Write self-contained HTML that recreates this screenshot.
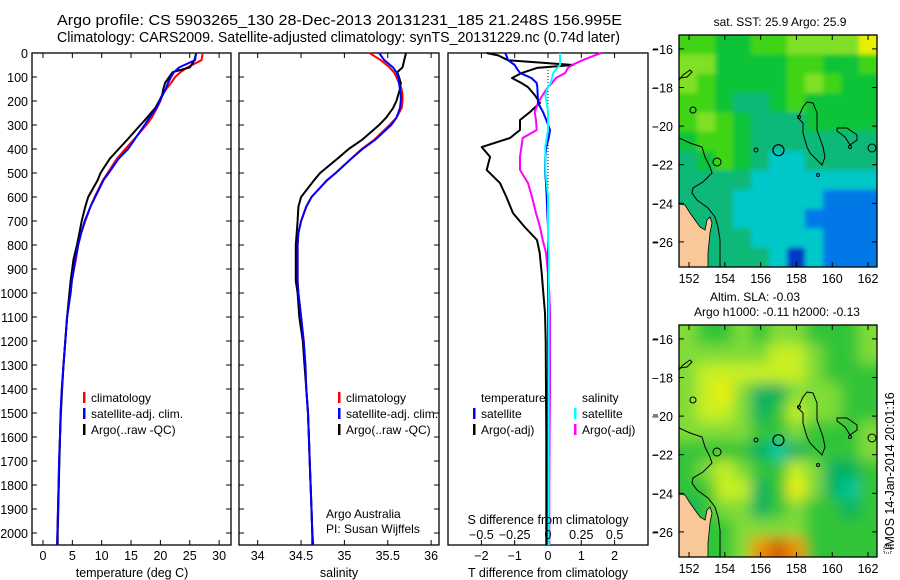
<!DOCTYPE html>
<html><head><meta charset="utf-8">
<style>
body{margin:0;background:#fff;}
svg{display:block;font-family:"Liberation Sans",sans-serif;}
</style></head>
<body>
<svg id="chart" width="900" height="580" viewBox="0 0 900 580" xmlns="http://www.w3.org/2000/svg">
<defs>
<clipPath id="clipM1"><rect x="679" y="35" width="198" height="232"/></clipPath>
<clipPath id="clipM2"><rect x="679" y="325" width="198" height="232"/></clipPath>
<filter id="blur" x="-10%" y="-10%" width="120%" height="120%"><feGaussianBlur stdDeviation="7"/></filter>
<filter id="blurS" x="-10%" y="-10%" width="120%" height="120%"><feGaussianBlur stdDeviation="2.5"/></filter>
</defs>
<text x="57" y="25" font-size="14.5" textLength="565" lengthAdjust="spacingAndGlyphs">Argo profile: CS 5903265_130 28-Dec-2013 20131231_185 21.248S 156.995E</text>
<text x="57" y="42" font-size="14.5" textLength="563" lengthAdjust="spacingAndGlyphs">Climatology: CARS2009. Satellite-adjusted climatology: synTS_20131229.nc (0.74d later)</text>
<g id="g"></g>
</svg>
<script>
// ---------- data ----------
const depths = [0,30,60,80,100,125,150,175,200,230,270,300,360,400,440,500,530,600,640,700,750,800,860,950,1000,1100,1200,1300,1400,1500,1600,1700,1800,1900,2000,2050];
const tempClim = [27.2,27.0,24.6,23.4,22.5,21.8,21.0,20.3,20.0,19.4,18.5,17.6,15.5,14.0,12.6,11.0,10.2,8.8,8.1,7.2,6.5,6.0,5.6,4.9,4.7,4.1,3.8,3.5,3.2,3.0,2.9,2.75,2.65,2.55,2.45,2.4];
const tempSat  = [26.1,25.9,23.2,22.3,21.8,21.3,20.9,20.4,19.9,19.3,18.1,17.3,15.6,14.5,12.9,11.2,10.3,8.9,8.1,7.1,6.5,6.0,5.5,4.9,4.7,4.1,3.8,3.5,3.2,3.0,2.9,2.75,2.65,2.55,2.45,2.4];
const tempArgo = [26.1,25.8,25.0,22.1,21.5,20.8,20.5,20.3,19.8,19.1,17.7,16.6,14.4,12.9,11.4,9.8,9.3,7.7,7.2,6.6,6.2,5.8,5.2,4.7,4.5,4.1,3.8,3.5,3.25,3.05,2.9,2.8,2.7,2.6,2.5,2.5];
const salClim = [35.29,35.42,35.52,35.57,35.60,35.63,35.66,35.67,35.67,35.66,35.60,35.52,35.35,35.20,35.08,34.90,34.80,34.62,34.56,34.50,34.47,34.46,34.46,34.46,34.47,34.50,34.53,34.55,34.56,34.58,34.59,34.60,34.61,34.62,34.63,34.64];
const salSat  = [35.40,35.46,35.56,35.60,35.62,35.63,35.64,35.65,35.65,35.64,35.60,35.54,35.36,35.21,35.08,34.90,34.80,34.62,34.56,34.50,34.47,34.46,34.46,34.46,34.47,34.50,34.53,34.55,34.56,34.58,34.59,34.60,34.61,34.62,34.63,34.64];
const salArgo = [35.71,35.69,35.67,35.61,35.63,35.65,35.64,35.62,35.60,35.56,35.48,35.40,35.21,35.05,34.92,34.72,34.65,34.50,34.47,34.46,34.45,34.44,34.44,34.44,34.46,34.48,34.52,34.54,34.56,34.58,34.59,34.60,34.61,34.62,34.63,34.63];
const diffDepths = [0,10,30,50,62,83,104,125,142,175,208,246,279,321,354,392,433,487,542,600,667,725,779,833,917,1000,1083,1200,1400,1600,1800,2000,2050];
const dTempArgo = [-1.84,-1.5,-1.2,0.75,-0.33,-0.78,-1.08,-0.8,-0.6,-0.4,-0.24,-0.54,-0.84,-0.84,-1.14,-1.99,-1.74,-1.84,-1.44,-1.25,-1.05,-0.7,-0.33,-0.25,-0.19,-0.14,-0.09,-0.07,-0.06,-0.05,-0.05,-0.05,-0.05];
const dTempSat = [-1.29,-1.25,-1.2,-1.0,-0.95,-0.84,-0.5,-0.34,-0.32,-0.31,-0.3,-0.15,-0.05,0.06,0.02,-0.05,-0.08,-0.09,-0.06,-0.04,-0.02,0.0,0.0,0.0,0.0,0.0,0.0,0.0,0.0,0.0,0.0,0.0,0.0];
const dSalArgo = [0.40,0.35,0.26,0.18,0.15,0.13,0.06,0.03,0.0,-0.04,-0.075,-0.1,-0.09,-0.085,-0.19,-0.2,-0.21,-0.21,-0.15,-0.12,-0.09,-0.06,-0.04,-0.015,0.0,0.01,0.015,0.015,0.015,0.012,0.01,0.01,0.01];
const dSalSat = [0.09,0.09,0.09,0.09,0.07,0.04,0.03,0.02,0.0,-0.02,-0.01,0.0,0.0,0.0,-0.01,-0.02,-0.02,-0.02,-0.01,0.0,0.0,0.0,0.0,0.005,0.005,0.005,0.005,0.005,0.005,0.005,0.005,0.005,0.005];
const depthTicks = [0,100,200,300,400,500,600,700,800,900,1000,1100,1200,1300,1400,1500,1600,1700,1800,1900,2000];
const tempTicks = [0,5,10,15,20,25,30];
const salTicks = [34,34.5,35,35.5,36];
const salTickLabels = ["34","34.5","35","35.5","36"];
const dTTicks = [-2,-1,0,1,2];
const dSTicks = [-0.5,-0.25,0,0.25,0.5];
const dSTickLabels = ["\u22120.5","\u22120.25","0","0.25","0.5"];
const lonTicks = [152,154,156,158,160,162];
const latTicks = [-16,-18,-20,-22,-24,-26];
const sstGrid = [
[5,5,4,4,5,5,6,6,6,6,7],[6,6,4,4,4,4,5,5,4,4,5],[6,5,4,4,4,4,5,6,5,4,4],[5,5,4,3,3,4,5,4,4,4,4],
[5,6,5,4,3,3,3,4,4,4,4],[4,5,5,4,3,3,3,3,3,3,3],[3,4,5,4,3,2,2,3,3,3,3],[3,3,3,3,2,2,2,2,2,2,2],
[3,3,3,2,2,2,2,2,1,1,1],[3,3,3,2,2,2,2,1,1,1,1],[3,3,3,3,2,2,2,2,1,1,1],[3,3,3,3,3,2,0,2,1,1,1]];
const slaGrid = [
[3,2,2,3,2,3,3,2,2,2,3],[3,3,3,3,3,4,4,3,2,2,3],[3,4,4,4,4,4,4,3,2,2,2],[3,4,5,3,1,1,3,3,3,2,2],
[3,4,4,3,1,2,4,3,3,2,2],[3,3,3,3,2,2,3,2,2,2,3],[2,2,2,2,1,0,1,2,2,2,3],[2,3,4,3,2,2,4,3,1,1,2],
[2,2,4,4,1,2,5,3,1,0,2],[1,2,3,3,1,2,3,2,2,1,2],[1,2,2,3,3,3,3,2,2,2,2],[1,2,2,3,6,7,6,2,2,2,2]];
const sstColors = ["#0038c8","#0078e8","#00c8c8","#10b878","#10c438","#40d418","#80e028","#e8f000"];
const slaColors = ["#00c8a0","#00b060","#30c438","#80dc38","#c8f020","#f0f000","#f09000","#d06000"];

// ---------- helpers ----------
const NS="http://www.w3.org/2000/svg";
const root=document.getElementById('g');
function mk(tag,attrs,parent){const e=document.createElementNS(NS,tag);for(const k in attrs)e.setAttribute(k,attrs[k]);(parent||root).appendChild(e);return e;}
const yD = d => 53 + 0.24*d;
const xT = t => 43 + 5.87*t;
const xS = s => 257.7 + 86.7*(s-34);
const xdT = t => 548 + 33.3*t;
const xdS = s => 548 + 133.2*s;
const pTop=53,pBot=545;
function frame(x0,x1,name){
  const r=mk('rect',{x:x0,y:pTop,width:x1-x0,height:pBot-pTop,fill:'none',stroke:'#000','stroke-width':1.3});
  
  
}
function txt(x,y,s,size,anchor,name){
  const t=mk('text',{x:x,y:y,'font-size':size,'text-anchor':anchor||'start'});
  t.textContent=s;
  
  
  return t;
}
function line(xs,ys,color,name,w){
  let p=xs.map((x,i)=>x.toFixed(1)+','+ys[i].toFixed(1)).join(' ');
  const l=mk('polyline',{points:p,fill:'none',stroke:color,'stroke-width':w||2,'stroke-linejoin':'round'});
  
  
}
function xTicks(vals,fx){
  vals.forEach(v=>{const x=fx(v);mk('line',{x1:x,x2:x,y1:pTop,y2:pTop+5,stroke:'#000'});mk('line',{x1:x,x2:x,y1:pBot,y2:pBot-5,stroke:'#000'});});
}
function yTicks(x0,x1){
  depthTicks.forEach(d=>{const y=yD(d);mk('line',{x1:x0,x2:x0+5,y1:y,y2:y,stroke:'#000'});mk('line',{x1:x1,x2:x1-5,y1:y,y2:y,stroke:'#000'});});
}
function legendEntry(x,y,color,label,name){
  const r=mk('rect',{x:x,y:y-10,width:2.5,height:11,fill:color});
  
  
  txt(x+8,y,label,12,'start',name);
}

// ---------- panel 1 ----------
frame(32,231,'temperature-panel');
yTicks(32,231); xTicks(tempTicks,xT);
depthTicks.forEach(d=>txt(28,yD(d)+5,String(d),12.5,'end','depth-tick-label'));
tempTicks.forEach(t=>txt(xT(t),560,String(t),12.5,'middle','temperature-tick-label'));
txt(132,577,'temperature (deg C)',12.5,'middle','temperature-axis-title');
line(tempClim.map(xT),depths.map(yD),'#ff0000','temp-climatology-line');
line(tempArgo.map(xT),depths.map(yD),'#000','temp-argo-line');
line(tempSat.map(xT),depths.map(yD),'#0000ff','temp-satellite-line');
legendEntry(83,402,'#f00','climatology','legend-climatology');
legendEntry(83,418,'#00f','satellite-adj. clim.','legend-satellite');
legendEntry(83,434,'#000','Argo(..raw -QC)','legend-argo');

// ---------- panel 2 ----------
frame(239,439,'salinity-panel');
yTicks(239,439); xTicks(salTicks,xS);
salTicks.forEach((s,i)=>txt(xS(s),560,salTickLabels[i],12.5,'middle','salinity-tick-label'));
txt(339,577,'salinity',12.5,'middle','salinity-axis-title');
line(salClim.map(xS),depths.map(yD),'#ff0000','sal-climatology-line');
line(salArgo.map(xS),depths.map(yD),'#000','sal-argo-line');
line(salSat.map(xS),depths.map(yD),'#0000ff','sal-satellite-line');
legendEntry(338,402,'#f00','climatology','legend2-climatology');
legendEntry(338,418,'#00f','satellite-adj. clim.','legend2-satellite');
legendEntry(338,434,'#000','Argo(..raw -QC)','legend2-argo');
txt(326,518,'Argo Australia',12,'start','credit-line-1');
txt(326,533,'PI: Susan Wijffels',12,'start','credit-line-2');

// ---------- panel 3 ----------
frame(448,648,'difference-panel');
xTicks(dTTicks,xdT);
[49,88,127,165,204,242,339,415,455,494,532].forEach(y=>mk('line',{x1:653,x2:658,y1:y,y2:y,stroke:'#000'}));
mk('line',{x1:548,x2:548,y1:70,y2:190,stroke:'#000','stroke-dasharray':'1,2'});
line(dTempArgo.map(xdT),diffDepths.map(yD),'#000','tdiff-argo-line');
line(dSalArgo.map(xdS),diffDepths.map(yD),'#ff00ff','sdiff-argo-line');
line(dTempSat.map(xdT),diffDepths.map(yD),'#0000ff','tdiff-satellite-line');
line(dSalSat.map(xdS),diffDepths.map(yD),'#00ffff','sdiff-satellite-line');
txt(481,402,'temperature',12,'start','legend3-temperature-header');
txt(582,402,'salinity',12,'start','legend3-salinity-header');
legendEntry(473,418,'#00f','satellite','legend3-t-satellite');
legendEntry(473,434,'#000','Argo(-adj)','legend3-t-argo');
legendEntry(574,418,'#0ff','satellite','legend3-s-satellite');
legendEntry(574,434,'#f0f','Argo(-adj)','legend3-s-argo');
txt(548,524,'S difference from climatology',12.5,'middle','s-diff-axis-title');
dSTicks.forEach((s,i)=>txt(xdS(s),539,dSTickLabels[i],12.5,'middle','s-diff-tick-label'));
dTTicks.forEach(t=>txt(xdT(t),560,t<0?'\u2212'+(-t):String(t),12.5,'middle','t-diff-tick-label'));
txt(548,577,'T difference from climatology',12.5,'middle','t-diff-axis-title');

// ---------- maps ----------
const mx0=679,mW=198,mH=232,lonL=151.44,lonR=162.5,latT=-15.28,latB=-27.3;
const xLon = lon => mx0 + (lon-lonL)/(lonR-lonL)*mW;
function drawMap(oy,grid,colors,name,blurId){
  const g=mk('g',{'clip-path':'url(#clipM'+(oy?2:1)+')'});
  
  
  const yLat = lat => oy+35 + (latT-lat)/(latT-latB)*mH;
  const cells=mk('g',{filter:'url(#'+blurId+')'},g);
  const cw=mW/grid[0].length, ch=mH/grid.length;
  mk('rect',{x:mx0-20,y:oy+15,width:mW+40,height:mH+40,fill:colors[2]},cells);
  grid.forEach((row,r)=>row.forEach((v,c)=>{
    const cx = (c===0?-15:c===row.length-1?15:0), cy = (r===0?-15:r===grid.length-1?15:0);
    const rc=mk('rect',{x:mx0+c*cw+Math.min(cx,0),y:oy+35+r*ch+Math.min(cy,0),width:cw+Math.abs(cx)+0.5,height:ch+Math.abs(cy)+0.5,fill:colors[v]},cells);
    
    
  }));
  const ov=mk('g',{transform:'translate(679,'+(oy+35)+')'},g);
  mk('path',{d:'M0,169 L6,170 L11,178 L16,185 L21,192 L26,195 L28,185 L31,182 L33,188 L31,198 L29,218 L29,232 L0,232Z',fill:'#f8c898',stroke:'#000','stroke-width':0.8},ov);
  const st={fill:'none',stroke:'#000','stroke-width':1};
  mk('path',Object.assign({d:'M0,103 L11,108 L23,112 L26,122 L31,132 L33,138 L24,147 L14,153 L13,158 L18,165 L29,173 L36,182 L39,192 L41,205 L41,232'},st),ov);
  mk('path',Object.assign({d:'M0,45 L4,40 L11,35 L13,37 L8,42 L0,43'},st),ov);
  mk('path',Object.assign({d:'M128,67 L134,68 L138,78 L138,95 L144,112 L146,122 L143,130 L138,125 L131,118 L128,112 L124,98 L124,88 L119,83 L124,72Z'},st),ov);
  mk('path',Object.assign({d:'M158,93 L168,93 L178,100 L178,105 L171,110 L166,102 L158,96Z'},st),ov);
  [[38,127,4],[14,75,3],[77,115,2],[193,113,4],[139,140,1.5],[120,82,1.5],[171,112,1.5]].forEach(c=>mk('circle',Object.assign({cx:c[0],cy:c[1],r:c[2]},st),ov));
  const pm=mk('circle',{cx:xLon(156.995)-679,cy:yLat(-21.248)-oy-35,r:5.5,fill:'none',stroke:'#000','stroke-width':1.2},ov);
  
  
  const fr=mk('rect',{x:mx0,y:oy+35,width:mW,height:mH,fill:'none',stroke:'#000','stroke-width':1.3});
  
  
  lonTicks.forEach(l=>{const x=xLon(l);mk('line',{x1:x,x2:x,y1:oy+35,y2:oy+40,stroke:'#000'});mk('line',{x1:x,x2:x,y1:oy+267,y2:oy+262,stroke:'#000'});
    txt(x,oy+283,String(l),12.5,'middle','longitude-tick-label');});
  latTicks.forEach(l=>{const y=yLat(l);mk('line',{x1:mx0,x2:mx0+5,y1:y,y2:y,stroke:'#000'});mk('line',{x1:877,x2:872,y1:y,y2:y,stroke:'#000'});
    txt(673,y+5,'\u2212'+(-l),12.5,'end','latitude-tick-label');});
}
drawMap(0,sstGrid,sstColors,'sst-map','blurS');
drawMap(290,slaGrid,slaColors,'sla-map','blur');
txt(780,26,'sat. SST: 25.9 Argo: 25.9',12,'middle','sst-map-title');
txt(755,301,'Altim. SLA: -0.03',12,'middle','sla-map-title-1');
txt(777,316,'Argo h1000: -0.11 h2000: -0.13',12,'middle','sla-map-title-2');
const stamp=txt(0,0,'IMOS 14-Jan-2014 20:01:16',12.5,'start','imos-timestamp');
stamp.setAttribute('transform','translate(894,550) rotate(-90)');
const ic=mk('rect',{x:884,y:546,width:7,height:7,fill:'none',stroke:'#000','stroke-dasharray':'1,1'});


</script>
</body></html>
